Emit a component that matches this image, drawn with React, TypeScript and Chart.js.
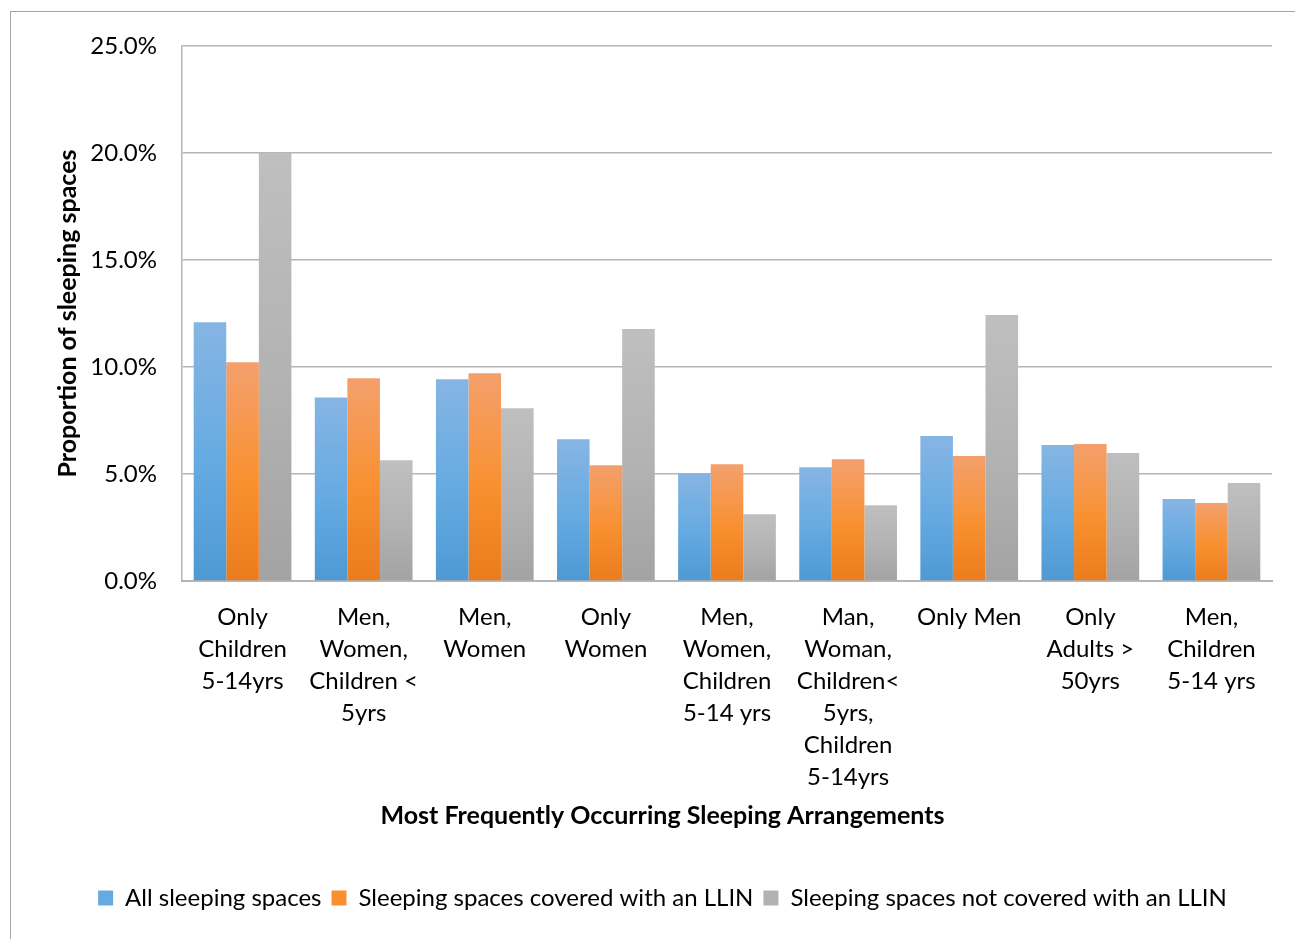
import React, { useEffect, useRef } from "react";
import { Chart, registerables } from "chart.js";

Chart.register(...registerables);

const categories: string[][] = [
  ["Only", "Children", "5-14yrs"],
  ["Men,", "Women,", "Children <", "5yrs"],
  ["Men,", "Women"],
  ["Only", "Women"],
  ["Men,", "Women,", "Children", "5-14 yrs"],
  ["Man,", "Woman,", "Children<", "5yrs,", "Children", "5-14yrs"],
  ["Only Men"],
  ["Only", "Adults >", "50yrs"],
  ["Men,", "Children", "5-14 yrs"],
];

const allSpaces = [12.09, 8.58, 9.43, 6.62, 5.03, 5.31, 6.78, 6.36, 3.83];
const coveredLLIN = [10.22, 9.47, 9.71, 5.41, 5.45, 5.69, 5.84, 6.40, 3.64];
const notCoveredLLIN = [20.0, 5.64, 8.07, 11.77, 3.12, 3.54, 12.43, 5.98, 4.58];

const seriesNames = [
  "All sleeping spaces",
  "Sleeping spaces covered with an LLIN",
  "Sleeping spaces not covered with an LLIN",
];

const yTicks = [0, 5, 10, 15, 20, 25];

const FONT = "Lato";

const blueStops = ["#86b5e4", "#65aae1", "#4e99d4"];
const orangeStops = ["#f4a06d", "#f8902f", "#eb7c1e"];
const grayStops = ["#bfbfbf", "#b2b2b2", "#a3a3a3"];

function gradientFill(stops: string[]) {
  return (ctx: any) => {
    const chart = ctx.chart;
    const ys = chart.scales && chart.scales.y;
    if (!ys || ctx.type !== "data" || ctx.raw == null) return stops[1];
    const top = ys.getPixelForValue(ctx.raw);
    const bottom = ys.getPixelForValue(0);
    if (!isFinite(top) || !isFinite(bottom) || Math.abs(bottom - top) < 1) return stops[1];
    const g = chart.ctx.createLinearGradient(0, top, 0, bottom);
    g.addColorStop(0, stops[0]);
    g.addColorStop(0.55, stops[1]);
    g.addColorStop(1, stops[2]);
    return g;
  };
}

export default function App() {
  const canvasRef = useRef<HTMLCanvasElement | null>(null);

  useEffect(() => {
    const canvas = canvasRef.current;
    if (!canvas) return;
    const solid = [blueStops[1], orangeStops[1], grayStops[1]];
    const chart = new Chart(canvas, {
      type: "bar",
      data: {
        labels: categories,
        datasets: [
          { label: seriesNames[0], data: allSpaces, backgroundColor: gradientFill(blueStops) },
          { label: seriesNames[1], data: coveredLLIN, backgroundColor: gradientFill(orangeStops) },
          { label: seriesNames[2], data: notCoveredLLIN, backgroundColor: gradientFill(grayStops) },
        ],
      },
      options: {
        animation: false,
        responsive: false,
        maintainAspectRatio: false,
        layout: { padding: { left: 53, right: 23, top: 46, bottom: 19 } },
        datasets: { bar: { barPercentage: 1, categoryPercentage: 0.807 } },
        plugins: {
          tooltip: { enabled: false },
          title: {
            display: true,
            position: "bottom",
            weight: 500,
            text: "Most Frequently Occurring Sleeping Arrangements",
            color: "#000",
            font: { family: FONT, size: 25, weight: "bold", lineHeight: 1.2 },
            padding: { top: 5, bottom: 45 },
          },
          legend: {
            position: "bottom",
            labels: {
              boxWidth: 15,
              boxHeight: 15,
              padding: 10,
              color: "#000",
              font: { family: FONT, size: 24 },
              generateLabels: (c: any) =>
                c.data.datasets.map((d: any, i: number) => ({
                  text: d.label,
                  fillStyle: solid[i],
                  strokeStyle: solid[i],
                  lineWidth: 0,
                  hidden: false,
                  datasetIndex: i,
                })),
            },
          },
        },
        scales: {
          x: {
            grid: { display: false, drawTicks: false },
            border: { display: true, color: "#b5b5b5", width: 2 },
            ticks: {
              color: "#000",
              padding: 20,
              maxRotation: 0,
              autoSkip: false,
              font: { family: FONT, size: 24, lineHeight: 32 / 24 },
            },
            afterFit: (s: any) => {
              s.height = 215;
            },
          },
          y: {
            min: 0,
            max: 25,
            afterBuildTicks: (s: any) => {
              s.ticks = yTicks.map((v) => ({ value: v }));
            },
            grid: { color: "#b5b5b5", lineWidth: 1.5, drawTicks: false },
            border: { display: true, color: "#b5b5b5", width: 1.5 },
            ticks: {
              color: "#000",
              padding: 25,
              font: { family: FONT, size: 24 },
              callback: (v: any) => Number(v).toFixed(1) + "%",
            },
            title: {
              display: true,
              text: "Proportion of sleeping spaces",
              color: "#000",
              font: { family: FONT, size: 25, weight: "bold" },
              padding: { top: 0, bottom: 0 },
            },
            afterFit: (s: any) => {
              s.width = 129;
            },
          },
        },
      },
    });
    return () => chart.destroy();
  }, []);

  return (
    <div style={{ position: "fixed", left: 0, top: 0, width: 1295, height: 939, background: "#fff" }}>
      <div
        style={{
          position: "absolute",
          left: 10,
          top: 11,
          width: 1300,
          height: 940,
          borderLeft: "1.5px solid #a6a6a6",
          borderTop: "1.5px solid #a6a6a6",
        }}
      />
      <canvas ref={canvasRef} width={1295} height={939} style={{ position: "absolute", left: 0, top: 0 }} />
    </div>
  );
}
